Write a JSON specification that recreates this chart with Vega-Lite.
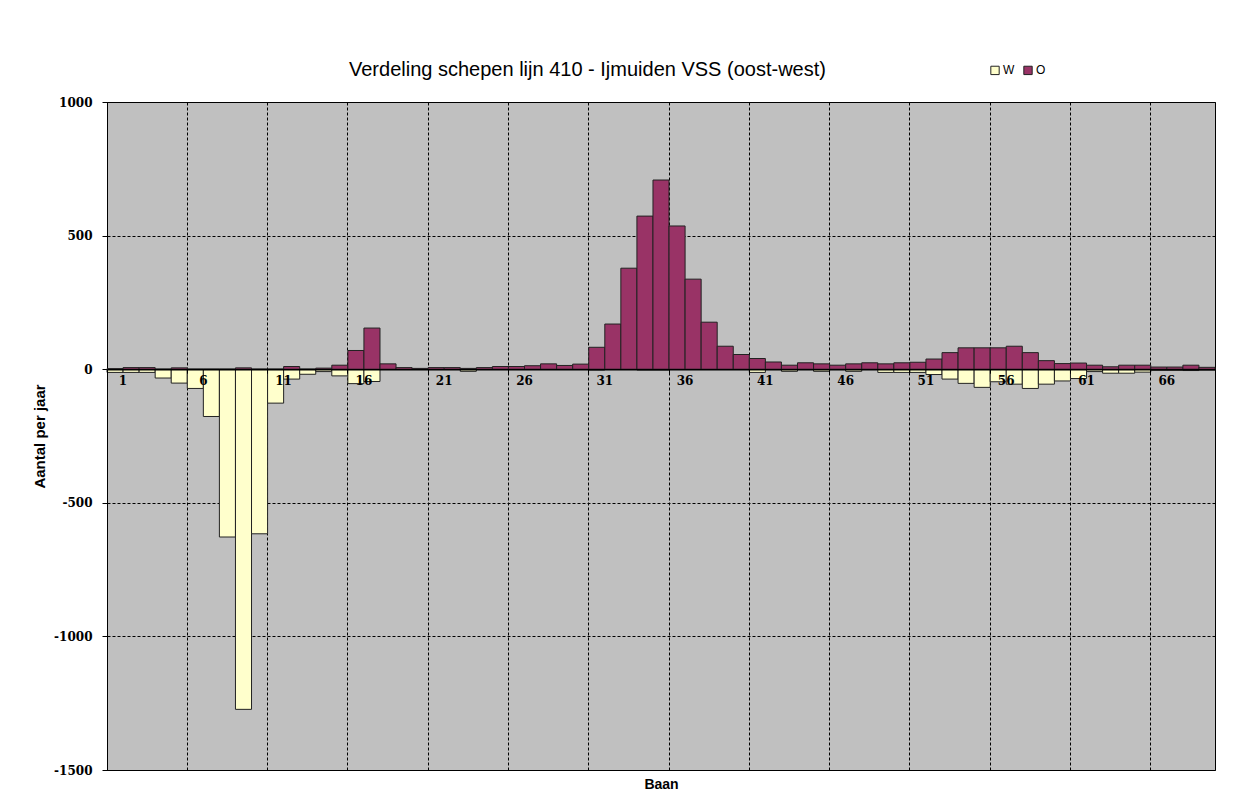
{
  "$schema": "https://vega.github.io/schema/vega-lite/v6.json",
  "width": 1108,
  "height": 668,
  "autosize": {"type": "none"},
  "padding": {"left": 107, "top": 102, "right": 32, "bottom": 41},
  "background": "white",
  "config": {
    "view": {"fill": "#C0C0C0", "stroke": "#000000", "strokeWidth": 1},
    "axisY": {
      "grid": true, "gridColor": "#000000", "gridDash": [3, 2], "gridWidth": 1,
      "domainColor": "#000000", "tickColor": "#000000", "tickSize": 5,
      "labelFont": "DejaVu Serif", "labelFontWeight": "bold", "labelFontSize": 12, "labelColor": "#000000",
      "labelPadding": 10,
      "titleFont": "Liberation Sans", "titleFontWeight": "bold", "titleFontSize": 15, "titleColor": "#000000", "titlePadding": 6
    }
  },
  "title": {
    "text": "Verdeling schepen lijn 410 - Ijmuiden VSS (oost-west)",
    "font": "Liberation Sans", "fontSize": 20, "fontWeight": "normal", "color": "#000000",
    "anchor": "start", "frame": "group", "dx": 242, "dy": 36, "offset": 20
  },
  "data": {
    "values": [
      {"baan": 1, "serie": "W", "aantal": -12}, {"baan": 1, "serie": "O", "aantal": 2},
      {"baan": 2, "serie": "W", "aantal": -12}, {"baan": 2, "serie": "O", "aantal": 6},
      {"baan": 3, "serie": "W", "aantal": -12}, {"baan": 3, "serie": "O", "aantal": 6},
      {"baan": 4, "serie": "W", "aantal": -33}, {"baan": 4, "serie": "O", "aantal": 0},
      {"baan": 5, "serie": "W", "aantal": -52}, {"baan": 5, "serie": "O", "aantal": 5},
      {"baan": 6, "serie": "W", "aantal": -72}, {"baan": 6, "serie": "O", "aantal": 0},
      {"baan": 7, "serie": "W", "aantal": -177}, {"baan": 7, "serie": "O", "aantal": 0},
      {"baan": 8, "serie": "W", "aantal": -628}, {"baan": 8, "serie": "O", "aantal": 0},
      {"baan": 9, "serie": "W", "aantal": -1273}, {"baan": 9, "serie": "O", "aantal": 5},
      {"baan": 10, "serie": "W", "aantal": -616}, {"baan": 10, "serie": "O", "aantal": 0},
      {"baan": 11, "serie": "W", "aantal": -127}, {"baan": 11, "serie": "O", "aantal": 0},
      {"baan": 12, "serie": "W", "aantal": -37}, {"baan": 12, "serie": "O", "aantal": 10},
      {"baan": 13, "serie": "W", "aantal": -19}, {"baan": 13, "serie": "O", "aantal": 0},
      {"baan": 14, "serie": "W", "aantal": -9}, {"baan": 14, "serie": "O", "aantal": 4},
      {"baan": 15, "serie": "W", "aantal": -25}, {"baan": 15, "serie": "O", "aantal": 15},
      {"baan": 16, "serie": "W", "aantal": -54}, {"baan": 16, "serie": "O", "aantal": 70},
      {"baan": 17, "serie": "W", "aantal": -46}, {"baan": 17, "serie": "O", "aantal": 154},
      {"baan": 18, "serie": "W", "aantal": 0}, {"baan": 18, "serie": "O", "aantal": 20},
      {"baan": 19, "serie": "W", "aantal": 0}, {"baan": 19, "serie": "O", "aantal": 6},
      {"baan": 20, "serie": "W", "aantal": 0}, {"baan": 20, "serie": "O", "aantal": 3},
      {"baan": 21, "serie": "W", "aantal": 0}, {"baan": 21, "serie": "O", "aantal": 6},
      {"baan": 22, "serie": "W", "aantal": 0}, {"baan": 22, "serie": "O", "aantal": 6},
      {"baan": 23, "serie": "W", "aantal": -8}, {"baan": 23, "serie": "O", "aantal": 3},
      {"baan": 24, "serie": "W", "aantal": 0}, {"baan": 24, "serie": "O", "aantal": 6},
      {"baan": 25, "serie": "W", "aantal": 0}, {"baan": 25, "serie": "O", "aantal": 10},
      {"baan": 26, "serie": "W", "aantal": 0}, {"baan": 26, "serie": "O", "aantal": 10},
      {"baan": 27, "serie": "W", "aantal": 0}, {"baan": 27, "serie": "O", "aantal": 13},
      {"baan": 28, "serie": "W", "aantal": 0}, {"baan": 28, "serie": "O", "aantal": 20},
      {"baan": 29, "serie": "W", "aantal": 0}, {"baan": 29, "serie": "O", "aantal": 14},
      {"baan": 30, "serie": "W", "aantal": 0}, {"baan": 30, "serie": "O", "aantal": 19},
      {"baan": 31, "serie": "W", "aantal": -3}, {"baan": 31, "serie": "O", "aantal": 82},
      {"baan": 32, "serie": "W", "aantal": 0}, {"baan": 32, "serie": "O", "aantal": 169},
      {"baan": 33, "serie": "W", "aantal": 0}, {"baan": 33, "serie": "O", "aantal": 378},
      {"baan": 34, "serie": "W", "aantal": -3}, {"baan": 34, "serie": "O", "aantal": 573},
      {"baan": 35, "serie": "W", "aantal": -3}, {"baan": 35, "serie": "O", "aantal": 708},
      {"baan": 36, "serie": "W", "aantal": 0}, {"baan": 36, "serie": "O", "aantal": 536},
      {"baan": 37, "serie": "W", "aantal": 0}, {"baan": 37, "serie": "O", "aantal": 337},
      {"baan": 38, "serie": "W", "aantal": 0}, {"baan": 38, "serie": "O", "aantal": 176},
      {"baan": 39, "serie": "W", "aantal": 0}, {"baan": 39, "serie": "O", "aantal": 86},
      {"baan": 40, "serie": "W", "aantal": 0}, {"baan": 40, "serie": "O", "aantal": 55},
      {"baan": 41, "serie": "W", "aantal": -12}, {"baan": 41, "serie": "O", "aantal": 40},
      {"baan": 42, "serie": "W", "aantal": 0}, {"baan": 42, "serie": "O", "aantal": 27},
      {"baan": 43, "serie": "W", "aantal": -8}, {"baan": 43, "serie": "O", "aantal": 15},
      {"baan": 44, "serie": "W", "aantal": 0}, {"baan": 44, "serie": "O", "aantal": 24},
      {"baan": 45, "serie": "W", "aantal": -8}, {"baan": 45, "serie": "O", "aantal": 20},
      {"baan": 46, "serie": "W", "aantal": 0}, {"baan": 46, "serie": "O", "aantal": 15},
      {"baan": 47, "serie": "W", "aantal": -8}, {"baan": 47, "serie": "O", "aantal": 20},
      {"baan": 48, "serie": "W", "aantal": 0}, {"baan": 48, "serie": "O", "aantal": 24},
      {"baan": 49, "serie": "W", "aantal": -12}, {"baan": 49, "serie": "O", "aantal": 20},
      {"baan": 50, "serie": "W", "aantal": -12}, {"baan": 50, "serie": "O", "aantal": 24},
      {"baan": 51, "serie": "W", "aantal": -12}, {"baan": 51, "serie": "O", "aantal": 26},
      {"baan": 52, "serie": "W", "aantal": -20}, {"baan": 52, "serie": "O", "aantal": 38},
      {"baan": 53, "serie": "W", "aantal": -37}, {"baan": 53, "serie": "O", "aantal": 62},
      {"baan": 54, "serie": "W", "aantal": -53}, {"baan": 54, "serie": "O", "aantal": 80},
      {"baan": 55, "serie": "W", "aantal": -68}, {"baan": 55, "serie": "O", "aantal": 80},
      {"baan": 56, "serie": "W", "aantal": -47}, {"baan": 56, "serie": "O", "aantal": 80},
      {"baan": 57, "serie": "W", "aantal": -56}, {"baan": 57, "serie": "O", "aantal": 86},
      {"baan": 58, "serie": "W", "aantal": -72}, {"baan": 58, "serie": "O", "aantal": 62},
      {"baan": 59, "serie": "W", "aantal": -56}, {"baan": 59, "serie": "O", "aantal": 32},
      {"baan": 60, "serie": "W", "aantal": -44}, {"baan": 60, "serie": "O", "aantal": 21},
      {"baan": 61, "serie": "W", "aantal": -35}, {"baan": 61, "serie": "O", "aantal": 23},
      {"baan": 62, "serie": "W", "aantal": -9}, {"baan": 62, "serie": "O", "aantal": 15},
      {"baan": 63, "serie": "W", "aantal": -15}, {"baan": 63, "serie": "O", "aantal": 9},
      {"baan": 64, "serie": "W", "aantal": -15}, {"baan": 64, "serie": "O", "aantal": 15},
      {"baan": 65, "serie": "W", "aantal": -11}, {"baan": 65, "serie": "O", "aantal": 15},
      {"baan": 66, "serie": "W", "aantal": -4}, {"baan": 66, "serie": "O", "aantal": 8},
      {"baan": 67, "serie": "W", "aantal": -4}, {"baan": 67, "serie": "O", "aantal": 8},
      {"baan": 68, "serie": "W", "aantal": -5}, {"baan": 68, "serie": "O", "aantal": 15},
      {"baan": 69, "serie": "W", "aantal": -3}, {"baan": 69, "serie": "O", "aantal": 7}
    ]
  },
  "resolve": {"axis": {"x": "independent"}},
  "layer": [
    {
      "transform": [{"filter": "datum.serie === 'W'"}],
      "mark": {"type": "bar", "stroke": "#222222", "strokeWidth": 1},
      "encoding": {
        "x": {
          "field": "baan", "type": "ordinal",
          "scale": {"paddingInner": 0, "paddingOuter": 0},
          "axis": {
            "orient": "bottom", "values": [1, 6, 11, 16, 21, 26, 31, 36, 41, 46, 51, 56, 61, 66],
            "bandPosition": 0, "grid": true, "gridColor": "#000000", "gridDash": [3, 2], "gridWidth": 1,
            "labels": false, "ticks": false, "domain": false,
            "title": "Baan", "titleFont": "Liberation Sans", "titleFontWeight": "bold", "titleFontSize": 14,
            "titleColor": "#000000", "titlePadding": 7
          }
        },
        "y": {
          "field": "aantal", "type": "quantitative", "stack": null,
          "scale": {"domain": [-1500, 1000], "nice": false},
          "axis": {"values": [-1500, -1000, -500, 0, 500, 1000], "labelExpr": "'' + datum.value", "title": "Aantal per jaar"}
        },
        "color": {
          "field": "serie", "type": "nominal",
          "scale": {"domain": ["W", "O"], "range": ["#FFFFCC", "#993366"]},
          "legend": {
            "orient": "none", "legendX": 882, "legendY": -38, "direction": "horizontal", "title": null,
            "symbolType": "square", "symbolSize": 70, "symbolStrokeColor": "#000000", "symbolStrokeWidth": 1,
            "labelFont": "Liberation Sans", "labelFontSize": 12, "labelColor": "#000000", "columnPadding": 6, "labelOffset": 2
          }
        }
      }
    },
    {
      "transform": [{"filter": "datum.serie === 'O'"}],
      "mark": {"type": "bar", "stroke": "#222222", "strokeWidth": 1},
      "encoding": {
        "x": {
          "field": "baan", "type": "ordinal",
          "scale": {"paddingInner": 0, "paddingOuter": 0},
          "axis": {
            "orient": "bottom", "offset": -400.8, "zindex": 1,
            "values": [1, 6, 11, 16, 21, 26, 31, 36, 41, 46, 51, 56, 61, 66],
            "bandPosition": 0, "grid": false, "labelAngle": 0, "labelAlign": "center", "labelOffset": 8,
            "labelFont": "DejaVu Serif", "labelFontWeight": "bold", "labelFontSize": 12, "labelColor": "#000000", "labelPadding": 2,
            "ticks": true, "tickSize": 4, "tickColor": "#000000",
            "domain": true, "domainColor": "#000000", "domainWidth": 1.5, "title": null
          }
        },
        "y": {
          "field": "aantal", "type": "quantitative", "stack": null,
          "scale": {"domain": [-1500, 1000], "nice": false},
          "axis": {"values": [-1500, -1000, -500, 0, 500, 1000], "labelExpr": "'' + datum.value", "title": "Aantal per jaar"}
        },
        "color": {
          "field": "serie", "type": "nominal",
          "scale": {"domain": ["W", "O"], "range": ["#FFFFCC", "#993366"]}
        }
      }
    }
  ]
}
